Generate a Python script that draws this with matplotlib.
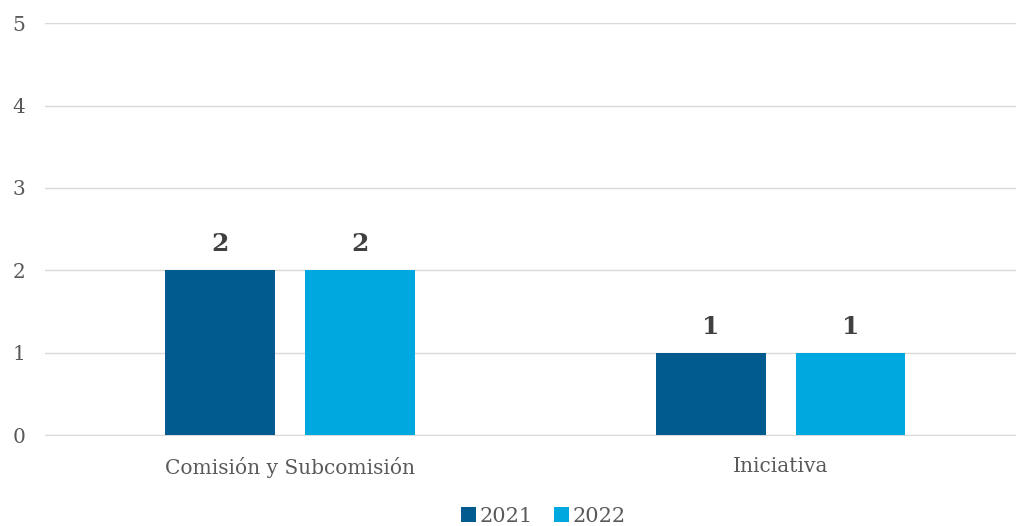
import matplotlib
matplotlib.use("Agg")
import matplotlib.pyplot as plt
import numpy as np

categories = ["Comisión y Subcomisión", "Iniciativa"]
series_names = ["2021", "2022"]
values_2021 = [2, 1]
values_2022 = [2, 1]
yticks = [0, 1, 2, 3, 4, 5]

plt.rcParams['font.family'] = ['DejaVu Serif']

fig = plt.figure(figsize=(10.16, 5.26), dpi=100)
ax = fig.add_axes([0.0443, 0.173, 0.9557, 0.783])

x = np.arange(len(categories))
w = 0.224
off = 0.1425
colors = ["#025B8F", "#00A8E0"]
b1 = ax.bar(x - off, values_2021, w, color=colors[0], label=series_names[0], zorder=3)
b2 = ax.bar(x + off, values_2022, w, color=colors[1], label=series_names[1], zorder=3)

for bars in (b1, b2):
    for r in bars:
        ax.text(r.get_x() + r.get_width() / 2, r.get_height() + 0.17, f"{int(r.get_height())}",
                ha="center", va="bottom", fontsize=18, fontweight="bold", color="#404040")

ax.set_xlim(-0.5, 1.48)
ax.set_ylim(0, 5)
ax.set_yticks(yticks)
ax.set_xticks(x)
ax.set_xticklabels(categories)
ax.grid(axis="y", color="#D9D9D9", linewidth=1, zorder=0)
for s in ["top", "right", "left"]:
    ax.spines[s].set_visible(False)
ax.spines["bottom"].set_color("#D9D9D9")
ax.tick_params(axis="x", length=0, labelsize=14.5, colors="#595959", pad=16)
ax.tick_params(axis="y", length=0, labelsize=14.5, colors="#595959", pad=14)

leg = fig.legend(handles=[b1, b2], labels=series_names, loc="lower center",
                 bbox_to_anchor=(0.535, -0.035), ncol=2, frameon=False, fontsize=15,
                 handlelength=0.7, handleheight=0.7, handletextpad=0.2, columnspacing=1.0)
for t in leg.get_texts():
    t.set_color("#595959")

fig.savefig("out.png", dpi=100)
